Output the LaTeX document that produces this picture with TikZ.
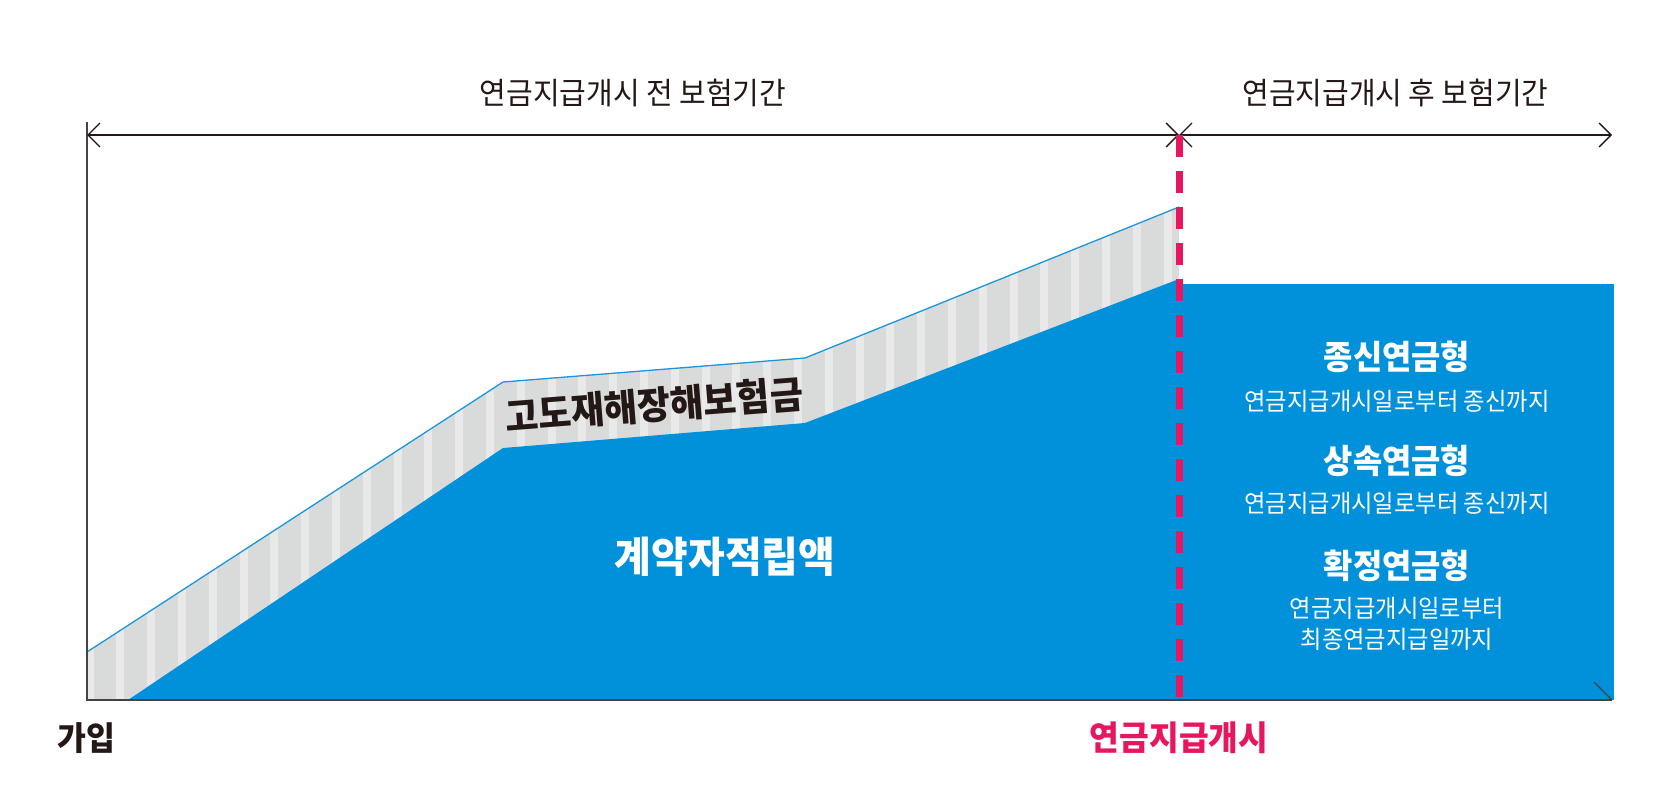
\documentclass[tikz,border=0pt]{standalone}
\usepackage{fontspec}
\setmainfont{Noto Sans CJK KR}[FakeStretch=0.95]
\usepackage{xcolor}
\usepackage{tikz}
\definecolor{reserveblue}{RGB}{0, 145, 218}
\definecolor{edgeblue}{RGB}{25, 150, 220}
\definecolor{bandgray}{RGB}{217, 219, 219}
\definecolor{stripegray}{RGB}{233, 233, 233}
\definecolor{startred}{RGB}{230, 22, 96}
\definecolor{inkdark}{RGB}{35, 24, 21}
\definecolor{axisgray}{RGB}{70, 66, 65}
\usetikzlibrary{arrows.meta, positioning, calc}

\begin{document}
\begin{tikzpicture}[x=1pt, y=-1pt,
    period/.style={{Straight Barb[length=12pt, width=24pt]}-{Straight Barb[length=12pt, width=24pt]},
                   line width=1.3pt, draw=inkdark},
    axis/.style={line width=1.5pt, draw=axisgray},
    heading/.style={font=\fontsize{30.5}{36}\selectfont, text=inkdark},
    plantitle/.style={font=\fontsize{33.5}{40}\selectfont\bfseries, text=white},
    plannote/.style={font=\fontsize{24.5}{31}\selectfont, text=white, align=center}
]
    \useasboundingbox (0,0) rectangle (1672,800);

    % Points of the curves
    \coordinate (origin) at (87,700);
    \coordinate (top) at (87,122);
    \coordinate (start) at (87,135);
    \coordinate (pay) at (1179,135);
    \coordinate (finish) at (1612,135);
    \coordinate (paybase) at (1179,700);
    \coordinate (endbase) at (1612,700);

    % Grey band with stripes
    \begin{scope}
        \clip (87,652) -- (503,382) -- (805,358) -- (1179,207) -- (paybase) -- (origin) -- cycle;
        \fill[bandgray] (80,200) rectangle (1185,705);
        \foreach \k in {0,...,35}
            \fill[stripegray] ({85.5+30.8*\k},200) rectangle +(8,505);
    \end{scope}
    \draw[edgeblue, line width=1.3pt] (87,652) -- (503,382) -- (805,358) -- (1179,207);

    % Reserve area
    \fill[reserveblue] (128,700) -- (503,448) -- (805,423) -- (1179,279) -- (paybase) -- cycle;
    \fill[reserveblue] (1179,284) rectangle (1614,700);

    % Axes
    \draw[axis] (top) -- (origin) -- (endbase);
    \draw[axis, line width=1.2pt] (endbase) -- ++(-18,-18);

    % Periods
    \draw[period] (start) -- (pay);
    \draw[period] (pay) -- (finish);
    \node[heading] (before) at ($(start)!0.5!(pay)+(0,-42)$) {연금지급개시 전 보험기간};
    \node[heading] (after) at ($(pay)!0.5!(finish)+(0,-42)$) {연금지급개시 후 보험기간};

    % Annuity start
    \draw[startred, line width=7pt, dash pattern=on 22pt off 14pt] (pay) -- (paybase);

    % Labels
    \node[font=\fontsize{38}{44}\selectfont\bfseries, text=inkdark, rotate=4.5] (rider) at (654,405) {고도재해장해보험금};
    \node[font=\fontsize{42}{48}\selectfont\bfseries, text=white] (reserve) at (725,557) {계약자적립액};
    \node[font=\fontsize{33}{38}\selectfont\bfseries, text=inkdark] (join) at (86,738) {가입};
    \node[font=\fontsize{34}{40}\selectfont\bfseries, text=startred] (paystart) at (1179,738) {연금지급개시};

    % Annuity types
    \node[plantitle] (lifetype) at (1397,357) {종신연금형};
    \node[plannote] (lifenote) at (1397,401) {연금지급개시일로부터 종신까지};
    \node[plantitle] (heirtype) at (1397,461) {상속연금형};
    \node[plannote] (heirnote) at (1397,503) {연금지급개시일로부터 종신까지};
    \node[plantitle] (fixedtype) at (1397,566) {확정연금형};
    \node[plannote] (fixednote) at (1397,624) {연금지급개시일로부터\\최종연금지급일까지};
\end{tikzpicture}
\end{document}
